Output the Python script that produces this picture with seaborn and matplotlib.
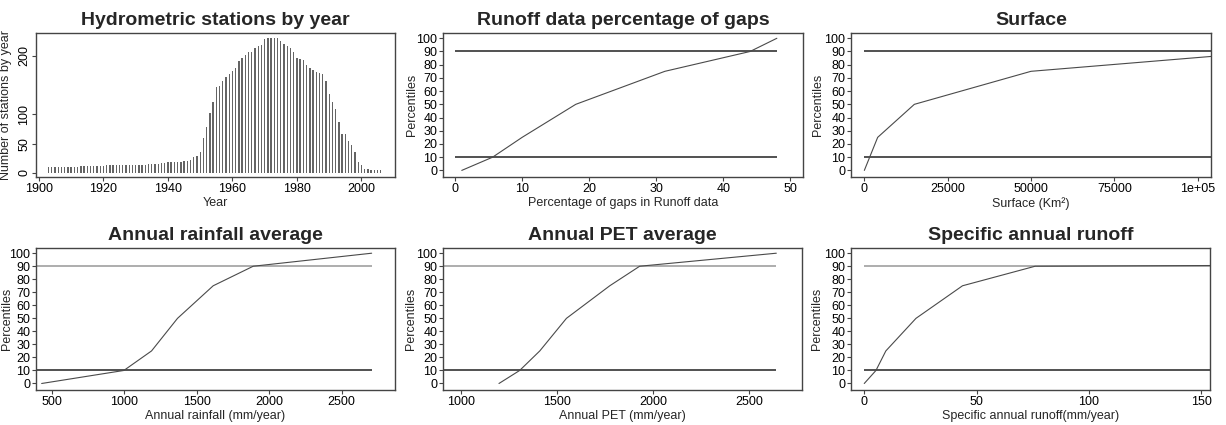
import numpy as np
import pandas as pd
import matplotlib
matplotlib.use("Agg")
import matplotlib.pyplot as plt
import seaborn as sns

# stations by year
years = np.arange(1903, 2007)
stations = [11, 11, 11, 11, 11, 11, 11, 11, 11, 11,
            12, 12, 12, 12, 12, 12, 12, 12,
            13, 13, 13, 13, 13, 13, 13,
            14, 14, 14, 14, 14, 14,
            15, 15, 15, 16, 17, 17,
            18, 18, 18, 19,
            19, 20, 21, 22, 27, 29, 35, 60, 79, 103, 121, 146, 149, 157, 164,
            169, 174, 180, 191, 197, 201, 206,
            207, 214, 216, 219, 229, 230, 231, 231, 230, 225, 220, 217, 213,
            207, 197, 195, 193, 185, 180, 175, 173,
            170, 169, 157, 134, 121, 109, 87, 67, 66, 54, 47, 35, 19, 13, 6,
            6, 5, 5, 5, 5]

# percentile curves
pct = [0, 10, 25, 50, 75, 90, 100]
gaps = [1, 5.6, 10, 18, 31.3, 44, 48]
surface = [0, 1600, 4000, 15000, 50000, 122000, 300000]
rainfall = [431, 998, 1189, 1368, 1614, 1890, 2707]
pet = [1196, 1304, 1409, 1548, 1774, 1930, 2643]
spec_runoff = [0, 5.2, 9.6, 23, 43.7, 76, 1500]

sns.set_style("ticks")
plt.rcParams["font.family"] = ["Liberation Sans", "DejaVu Sans"]
plt.rcParams["axes.edgecolor"] = "#444444"
plt.rcParams["xtick.color"] = "#444444"
plt.rcParams["ytick.color"] = "#444444"
plt.rcParams["xtick.labelcolor"] = "black"
plt.rcParams["ytick.labelcolor"] = "black"

W, H = 1226, 425
fig = plt.figure(figsize=(W / 100, H / 100), dpi=100)


def make_ax(l, r, t, b):
    return fig.add_axes([l / W, 1 - b / H, (r - l) / W, (b - t) / H])


def style(ax, title, xlabel, ylabel, ylab_x):
    ax.set_title(title, fontsize=14, fontweight="bold", pad=6)
    ax.set_xlabel(xlabel, fontsize=9, labelpad=2)
    ax.set_ylabel(ylabel, fontsize=9)
    ax.yaxis.set_label_coords(ylab_x, 0.5)
    ax.tick_params(length=3, width=0.8, labelsize=9, pad=1)
    for s in ax.spines.values():
        s.set_linewidth(1.0)
        s.set_visible(True)


# panel 1: histogram-style bars
ax1 = make_ax(36, 395, 33, 177)
df = pd.DataFrame({"year": years, "n": stations})
sns.barplot(data=df, x="year", y="n", native_scale=True, width=0.42,
            color="#646464", saturation=1, linewidth=0, ax=ax1)
ax1.set_xlim(1899.1, 2010.4)
ax1.set_ylim(-6.9, 239)
ax1.set_xticks([1900, 1920, 1940, 1960, 1980, 2000])
ax1.set_yticks([0, 50, 100, 200])
ax1.set_yticklabels(["0", "50", "100", "200"], rotation=90, va="center")
style(ax1, "Hydrometric stations by year", "Year", "Number of stations by year", -0.066)

panels = [
    (443, 803, 33, 177, gaps, "Runoff data percentage of gaps",
     "Percentage of gaps in Runoff data", (-1.8, 51.9), (0, 48),
     [0, 10, 20, 30, 40, 50], None, -0.069, "#333333"),
    (851, 1211, 33, 177, surface, "Surface", "Surface (Km\u00b2)",
     (-4000, 104000), (0, 104000), [0, 25000, 50000, 75000, 100000],
     ["0", "25000", "50000", "75000", "1e+05"], -0.075, "#333333"),
    (36, 395, 248, 390, rainfall, "Annual rainfall average",
     "Annual rainfall (mm/year)", (392, 2868), (401, 2707),
     [500, 1000, 1500, 2000, 2500], None, -0.064, "#a0a0a0"),
    (443, 802, 248, 390, pet, "Annual PET average", "Annual PET (mm/year)",
     (904, 2777), (904, 2643), [1000, 1500, 2000, 2500], None, -0.072, "#a0a0a0"),
    (851, 1210, 248, 390, spec_runoff, "Specific annual runoff",
     "Specific annual runoff(mm/year)", (-5.9, 153.8), (0, 153.8),
     [0, 50, 100, 150], None, -0.078, "#a0a0a0"),
]

for l, r, t, b, xs, title, xlabel, xlim, hspan, xt, xtl, ylx, c90 in panels:
    ax = make_ax(l, r, t, b)
    ax.hlines(10, hspan[0], hspan[1], color="#333333", linewidth=1.2)
    ax.hlines(90, hspan[0], hspan[1], color=c90, linewidth=1.2)
    sns.lineplot(x=xs, y=pct, sort=False, color="#4a4a4a", linewidth=0.8, ax=ax)
    ax.set_xlim(*xlim)
    ax.set_ylim(-5, 104)
    ax.set_yticks(range(0, 101, 10))
    ax.set_xticks(xt)
    if xtl is not None:
        ax.set_xticklabels(xtl)
    style(ax, title, xlabel, "Percentiles", ylx)

fig.savefig("out.png", dpi=100)
